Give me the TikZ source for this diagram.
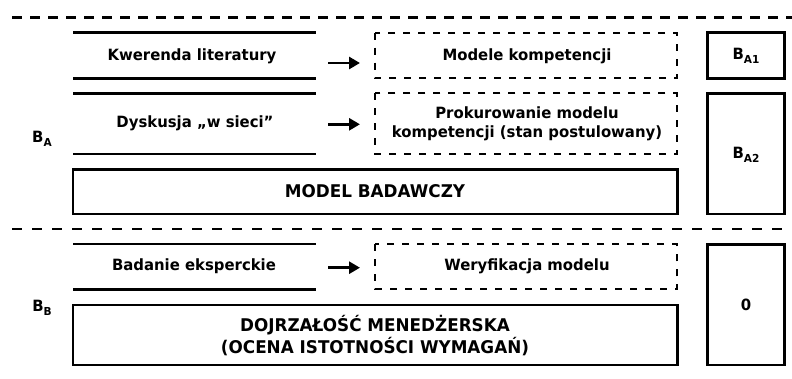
\documentclass[tikz,border=0pt]{standalone}
\usepackage{fontspec}
\setmainfont{DejaVu Sans}[FakeStretch=0.96]
\usetikzlibrary{arrows.meta}
\tikzset{
  rulel/.style={line width=2.8pt},
  sepline/.style={line width=2.8pt, dash pattern=on 10pt off 8pt},
  sepline2/.style={line width=2.2pt, dash pattern=on 10pt off 10pt},
  dbox/.style={draw, line width=2.2pt, dash pattern=on 7pt off 8pt},
  sbox/.style={draw, line width=2.8pt},
  lbl/.style={font=\bfseries\fontsize{15.5}{19}\selectfont, align=center},
  big/.style={font=\bfseries\fontsize{17.5}{22}\selectfont, align=center},
  arr/.style={line width=2.8pt, -{Triangle[length=11pt,width=12pt]}},
}
\newcommand{\sbs}[1]{\raisebox{-0.45ex}{\fontsize{11}{11}\selectfont #1}}
\begin{document}
\begin{tikzpicture}[x=1pt,y=-1pt]
\useasboundingbox (0,0) rectangle (792,378);
% separators
\coordinate (s1a) at (12,17.7); \coordinate (s1b) at (792,17.7);
\coordinate (s2a) at (12,229); \coordinate (s2b) at (792,229);
\draw[sepline] (s1a) -- (s1b);
\draw[sepline2] (s2a) -- (s2b);
% rules
\foreach \y [count=\i] in {32.7,78.3,93.3,154,244,289.3}{
  \coordinate (r\i a) at (73,\y); \coordinate (r\i b) at (316,\y);
  \draw[rulel] (r\i a) -- (r\i b);
}
% left texts
\node[lbl] (kw) at (192,56) {Kwerenda literatury};
\node[lbl] (dy) at (195,123.7) {Dyskusja „w sieci”};
\node[lbl] (be) at (194,266.7) {Badanie eksperckie};
% dashed boxes
\draw[dbox] (375,32.7) rectangle (677,78.3);
\node[lbl] (mk) at (527,56) {Modele kompetencji};
\draw[dbox] (375,93.3) rectangle (677,154);
\node[lbl] (pm) at (527,123.7) {Prokurowanie modelu\\kompetencji (stan postulowany)};
\draw[dbox] (375,244.3) rectangle (677,289.3);
\node[lbl] (wm) at (527,266.7) {Weryfikacja modelu};
% arrows
\coordinate (a1s) at (328,63); \coordinate (a1e) at (360,63);
\coordinate (a2s) at (328,124.3); \coordinate (a2e) at (360,124.3);
\coordinate (a3s) at (328,267.7); \coordinate (a3e) at (360,267.7);
\draw[arr] (a1s) -- (a1e);
\draw[arr] (a2s) -- (a2e);
\draw[arr] (a3s) -- (a3e);
% solid boxes
\draw[sbox] (73,169.3) rectangle (677.7,214);
\node[big] (mb) at (375,191) {MODEL BADAWCZY};
\draw[sbox] (73,305) rectangle (677.7,365);
\node[big] (dm) at (375,336) {DOJRZAŁOŚĆ MENEDŻERSKA\\(OCENA ISTOTNOŚCI WYMAGAŃ)};
% right boxes
\draw[sbox] (707.7,32.7) rectangle (784.3,78.3);
\node[lbl] (ba1) at (746,56) {B\sbs{A1}};
\draw[sbox] (707.7,93.3) rectangle (784.3,214);
\node[lbl] (ba2) at (746,155) {B\sbs{A2}};
\draw[sbox] (707.7,244.3) rectangle (784.3,365);
\node[lbl] (zero) at (746,305) {0};
% side labels
\node[lbl] (BA) at (42,139) {B\sbs{A}};
\node[lbl] (BB) at (42,308) {B\sbs{B}};
\end{tikzpicture}
\end{document}
